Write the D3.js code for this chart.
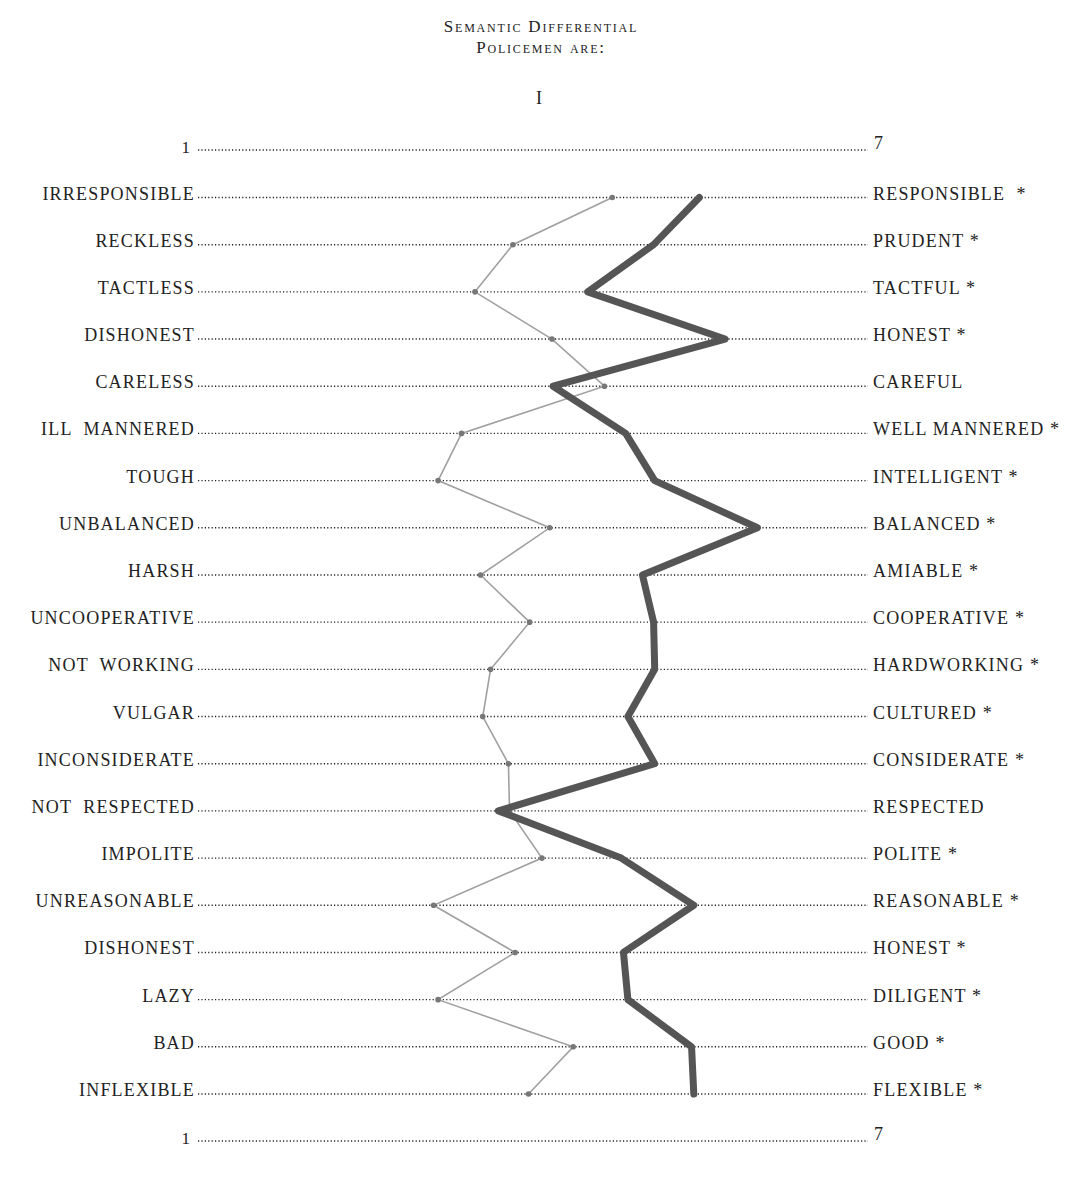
<!DOCTYPE html>
<html>
<head>
<meta charset="utf-8">
<script src="https://cdn.jsdelivr.net/npm/d3@7"></script>
<style>
  body { margin: 0; background: #fff; }
  text { font-family: "Liberation Serif", "DejaVu Serif", serif; fill: #222; white-space: pre; }
</style>
</head>
<body>
<div id="chart"></div>
<script>
// negative pole (left) and positive pole (right) of each scale
const leftLabels = ["IRRESPONSIBLE", "RECKLESS", "TACTLESS", "DISHONEST", "CARELESS",
  "ILL  MANNERED", "TOUGH", "UNBALANCED", "HARSH", "UNCOOPERATIVE", "NOT  WORKING",
  "VULGAR", "INCONSIDERATE", "NOT  RESPECTED", "IMPOLITE", "UNREASONABLE",
  "DISHONEST", "LAZY", "BAD", "INFLEXIBLE"];
const rightLabels = ["RESPONSIBLE  *", "PRUDENT *", "TACTFUL *", "HONEST *", "CAREFUL",
  "WELL MANNERED *", "INTELLIGENT *", "BALANCED *", "AMIABLE *", "COOPERATIVE *",
  "HARDWORKING *", "CULTURED *", "CONSIDERATE *", "RESPECTED", "POLITE *",
  "REASONABLE *", "HONEST *", "DILIGENT *", "GOOD *", "FLEXIBLE *"];

// mean ratings on the 1..7 scale
const seriesLight = [4.71, 3.82, 3.48, 4.17, 4.64, 3.36, 3.15, 4.15, 3.53, 3.97,
  3.62, 3.55, 3.78, 3.79, 4.08, 3.11, 3.84, 3.15, 4.36, 3.96];
const seriesDark = [5.49, 5.08, 4.49, 5.72, 4.18, 4.83, 5.09, 6.01, 4.98, 5.08,
  5.09, 4.85, 5.09, 3.69, 4.79, 5.44, 4.81, 4.85, 5.42, 5.44];

const scaleEnds = [1, 7];
const titleLines = ["Semantic Differential", "Policemen are:"];

const W = 1071, H = 1203;
const svg = d3.select("#chart").append("svg")
  .attr("width", W).attr("height", H);

const x = d3.scaleLinear().domain(scaleEnds).range([198, 868]);
const rows = d3.range(leftLabels.length);
const y = d3.scalePoint().domain(rows).range([197.5, 1094]);

// title
svg.selectAll(".title")
  .data(titleLines)
  .enter().append("text")
    .attr("x", 541)
    .attr("y", (d, i) => 32 + i * 21)
    .attr("text-anchor", "middle")
    .style("font-variant", "small-caps")
    .style("font-size", "17px")
    .style("letter-spacing", "1.8px")
    .text(d => d);

svg.append("text")
  .attr("x", 539).attr("y", 104)
  .attr("text-anchor", "middle")
  .style("font-size", "18px")
  .text("I");

// dotted leader for a row
function leader(yy) {
  svg.append("line")
    .attr("x1", x(scaleEnds[0])).attr("x2", x(scaleEnds[1]))
    .attr("y1", yy).attr("y2", yy)
    .attr("stroke", "#222")
    .attr("stroke-width", 1.4)
    .attr("stroke-dasharray", "1.2 2.2");
}

// scale rows at top and bottom
[150, 1141].forEach(yy => {
  leader(yy);
  svg.append("text").attr("x", x(scaleEnds[0]) - 8).attr("y", yy + 3)
    .attr("text-anchor", "end").style("font-size", "17px").text(scaleEnds[0]);
  svg.append("text").attr("x", x(scaleEnds[1]) + 6).attr("y", yy - 1)
    .style("font-size", "18px").text(scaleEnds[1]);
});

rows.forEach(i => leader(y(i)));

svg.selectAll(".lab-left")
  .data(leftLabels)
  .enter().append("text")
    .attr("x", 195)
    .attr("y", (d, i) => y(i) + 2)
    .attr("text-anchor", "end")
    .style("font-size", "18px")
    .style("letter-spacing", "1.2px")
    .text(d => d);

svg.selectAll(".lab-right")
  .data(rightLabels)
  .enter().append("text")
    .attr("x", 873)
    .attr("y", (d, i) => y(i) + 2)
    .style("font-size", "18px")
    .style("letter-spacing", "1.2px")
    .text(d => d);

const line = d3.line()
  .x(d => x(d))
  .y((d, i) => y(i));

// light series
svg.append("path")
  .datum(seriesLight)
  .attr("d", line)
  .attr("fill", "none")
  .attr("stroke", "#a0a0a0")
  .attr("stroke-width", 1.6);

svg.selectAll(".pt")
  .data(seriesLight)
  .enter().append("circle")
    .attr("cx", d => x(d))
    .attr("cy", (d, i) => y(i))
    .attr("r", 2.8)
    .style("fill", "#777");

// dark series
svg.append("path")
  .datum(seriesDark)
  .attr("d", line)
  .attr("fill", "none")
  .attr("stroke", "#555")
  .attr("stroke-width", 7)
  .attr("stroke-linejoin", "round")
  .attr("stroke-linecap", "round");
</script>
</body>
</html>
